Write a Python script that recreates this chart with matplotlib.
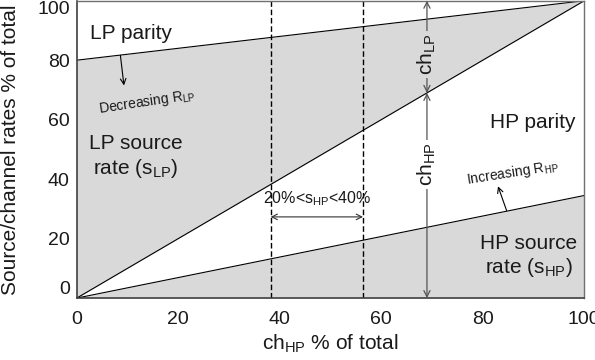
import matplotlib
matplotlib.use("Agg")
import matplotlib.pyplot as plt
import numpy as np

plt.rcParams['font.family'] = ['Liberation Sans', 'DejaVu Sans']
plt.rcParams['mathtext.fontset'] = 'custom'
plt.rcParams['mathtext.rm'] = 'Liberation Sans'
plt.rcParams['mathtext.it'] = 'Liberation Sans'
plt.rcParams['mathtext.default'] = 'rm'

# rate lines across the channel split (x = ch_HP % of total)
ch_hp = [0, 100]
lp_parity = [80, 100]     # top of LP source rate
diagonal = [0, 100]       # ch_HP / ch_LP boundary
hp_source = [0, 34.5]     # top of HP source rate

band_x = [38.2, 56.4]     # 20% < s_HP < 40% band
band_arrow_y = 27.3
ch_split_x = 69

xticks = [0, 20, 40, 60, 80, 100]
yticks = [0, 20, 40, 60, 80, 100]

GRAY = '#d9d9d9'
FRAME = '#404040'
TEXT = '#1a1a1a'

fig = plt.figure(figsize=(5.95, 3.6), dpi=100)
ax = fig.add_axes([0.129, 0.172, 0.853, 0.826])

x = np.array(ch_hp, dtype=float)
ax.fill_between(x, diagonal, lp_parity, color=GRAY, lw=0)
ax.fill_between(x, 0, hp_source, color=GRAY, lw=0)

for y in (lp_parity, diagonal, hp_source):
    ax.plot(x, y, color='black', lw=0.8)

for bx in band_x:
    ax.axvline(bx, color='black', lw=1.0, ls=(0, (4, 2)))

# band arrow and label
ax.annotate('', xy=(band_x[0], band_arrow_y), xytext=(band_x[1], band_arrow_y),
            arrowprops=dict(arrowstyle='<->', color='#333333', lw=0.8,
                            shrinkA=0, shrinkB=0, mutation_scale=10))
ax.text(np.mean(band_x), 33.5, r'20%<s$_{\mathrm{HP}}$<40%', ha='center', va='center',
        fontsize=11.5, color=TEXT)

# channel split arrows
split_y = np.interp(ch_split_x, ch_hp, diagonal)
arrow_kw = dict(arrowstyle='<->', color='#555555', lw=0.9,
                shrinkA=0, shrinkB=0, mutation_scale=11)
ax.annotate('', xy=(ch_split_x, 100), xytext=(ch_split_x, split_y), arrowprops=arrow_kw)
ax.annotate('', xy=(ch_split_x, 0), xytext=(ch_split_x, split_y), arrowprops=arrow_kw)
ax.text(ch_split_x, 82, r'ch$_{\mathrm{LP}}$', rotation=90, ha='center', va='center',
        fontsize=15, color=TEXT,
        bbox=dict(facecolor=GRAY, edgecolor='none', pad=2))
ax.text(ch_split_x, 45, r'ch$_{\mathrm{HP}}$', rotation=90, ha='center', va='center',
        fontsize=15, color=TEXT,
        bbox=dict(facecolor='white', edgecolor='none', pad=2))

# direction hints
ax.annotate('', xy=(9.3, 71.5), xytext=(8.6, 81.6),
            arrowprops=dict(arrowstyle='->', color='black', lw=0.8,
                            shrinkA=0, shrinkB=0, mutation_scale=10))
ax.text(13.8, 66, r'Decreasing R$_{\mathrm{LP}}$', rotation=8.5, rotation_mode='anchor',
        ha='center', va='center', fontsize=10, color=TEXT)
ax.annotate('', xy=(83.0, 37.6), xytext=(84.7, 29.4),
            arrowprops=dict(arrowstyle='->', color='black', lw=0.8,
                            shrinkA=0, shrinkB=0, mutation_scale=10))
ax.text(85.8, 42, r'Increasing R$_{\mathrm{HP}}$', rotation=9, rotation_mode='anchor',
        ha='center', va='center', fontsize=10, color=TEXT)

# region labels
ax.text(2.6, 89, 'LP parity', ha='left', va='center', fontsize=15, color=TEXT)
ax.text(11.6, 47.5, 'LP source\n' + r'rate (s$_{\mathrm{LP}}$)', ha='center', va='center',
        fontsize=15, color=TEXT, linespacing=1.2)
ax.text(98.2, 59, 'HP parity', ha='right', va='center', fontsize=15, color=TEXT)
ax.text(89, 14, 'HP source\n' + r'rate (s$_{\mathrm{HP}}$)', ha='center', va='center',
        fontsize=15, color=TEXT, linespacing=1.2)

ax.set_xlim(0, 100)
ax.set_ylim(0, 100)
ax.set_xticks(xticks)
ax.set_yticks(yticks)
ax.tick_params(length=0, labelsize=14, colors=TEXT)
ax.tick_params(axis='x', pad=9)
ax.tick_params(axis='y', pad=5)

# keep the end labels inside the frame height
ylabels = ax.get_yticklabels()
ylabels[0].set_va('bottom')
ylabels[-1].set_va('top')

for side in ('left', 'bottom'):
    ax.spines[side].set_color(FRAME)
    ax.spines[side].set_linewidth(1.2)
for side in ('top', 'right'):
    ax.spines[side].set_color('#707070')
    ax.spines[side].set_linewidth(1.0)

ax.set_xlabel(r'ch$_{\mathrm{HP}}$ % of total', fontsize=15, color=TEXT)
ax.set_ylabel('Source/channel rates % of total', fontsize=15, color=TEXT)
ax.xaxis.set_label_coords(0.5, -0.115)
ax.yaxis.set_label_coords(-0.112, 0.5)

fig.savefig('out.png', dpi=100)
